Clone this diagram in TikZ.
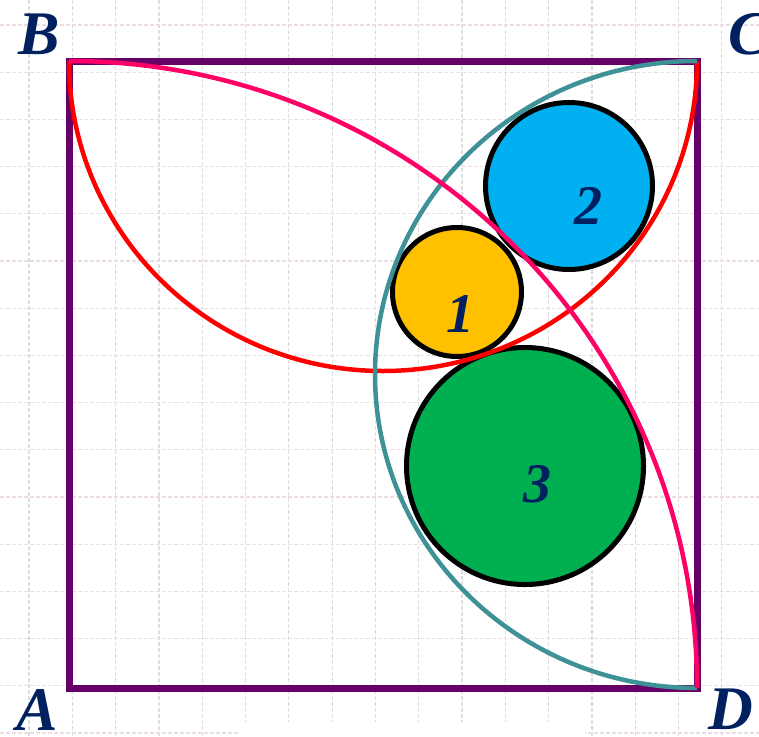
\documentclass[tikz,border=0pt]{standalone}
\usepackage{fontspec}
\setmainfont{Liberation Serif}
\definecolor{sqpurple}{RGB}{102,0,102}
\definecolor{arcred}{RGB}{255,0,0}
\definecolor{arcpink}{RGB}{255,0,102}
\definecolor{arcteal}{RGB}{62,145,150}
\definecolor{cyellow}{RGB}{255,192,0}
\definecolor{cblue}{RGB}{0,176,240}
\definecolor{cgreen}{RGB}{0,176,80}
\definecolor{navy}{RGB}{0,32,96}
\definecolor{gridv}{RGB}{222,222,222}
\definecolor{gridh}{RGB}{236,222,226}
\begin{document}
\begin{tikzpicture}[x=1pt,y=-1pt,
  vline/.style={gridv,line width=1.2pt,dash pattern=on 4pt off 2pt},
  hline/.style={gridh,line width=1.2pt,dash pattern=on 4pt off 2pt},
  sqline/.style={sqpurple,line width=7pt},
  bigarc/.style={line width=4.5pt},
  disc/.style={draw=black,line width=5pt},
  lbl/.style={text=navy,font=\fontsize{62}{62}\selectfont\bfseries\itshape,inner sep=0pt},
  num/.style={text=navy,font=\fontsize{56}{56}\selectfont\bfseries\itshape,inner sep=0pt}]
\useasboundingbox (0,0) rectangle (759,736);
\fill[white] (0,0) rectangle (759,736);
% grid
\foreach \i in {0,...,17} \draw[vline] ({29+43.3*\i},0) -- ({29+43.3*\i},736);
\foreach \j in {0,...,15} \draw[hline] (0,{25+47.2*\j}) -- (759,{25+47.2*\j});
\fill[white] (240,722) rectangle (585,737);
% square
\coordinate (A) at (69,688);
\coordinate (B) at (69,61);
\coordinate (C) at (697,61);
\coordinate (D) at (697,688);
\draw[sqline] (A) -- (B) -- (C) -- (D) -- cycle;
% circles
\draw[disc,fill=cyellow] (457,292) circle[radius=64.5];
\draw[disc,fill=cblue] (569,186) circle[radius=83.5];
\draw[disc,fill=cgreen] (525,466) circle[radius=118.5];
% arcs
\draw[bigarc,arcred] (B) arc[start angle=180,end angle=0,x radius=314,y radius=310];
\draw[bigarc,arcteal] (C) arc[start angle=270,end angle=90,x radius=322,y radius=313.5];
\draw[bigarc,arcpink] (B) arc[start angle=-90,end angle=0,x radius=628,y radius=627];
% labels
\node[lbl] (lB) at (39,34) {B};
\node[lbl] (lC) at (749,34) {C};
\node[lbl] (lA) at (37,710) {A};
\node[lbl] (lD) at (731,709) {D};
\node[num] (n1) at (460,314) {1};
\node[num] (n2) at (588,206) {2};
\node[num] (n3) at (537,484) {3};
\end{tikzpicture}
\end{document}
